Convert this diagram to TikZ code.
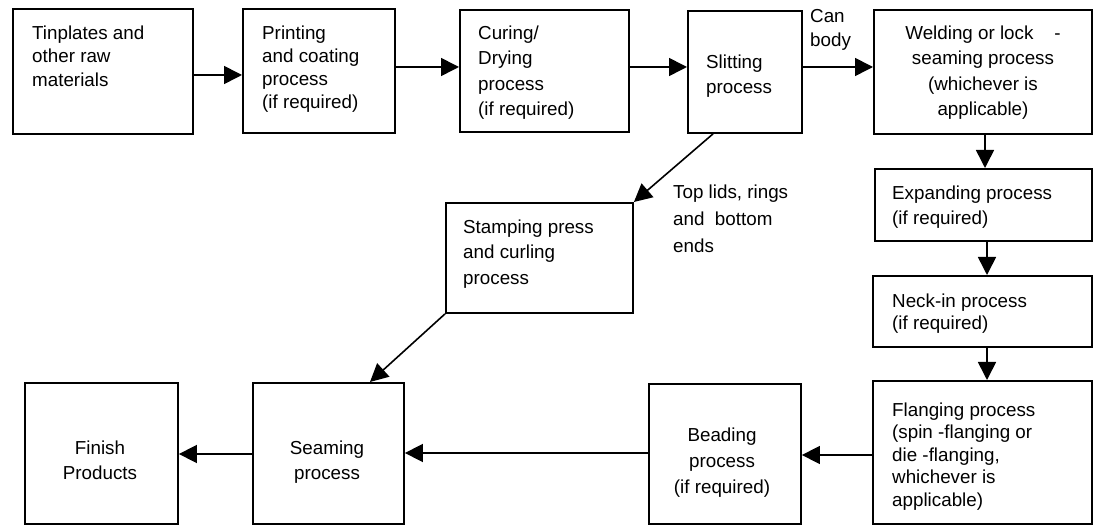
\documentclass[tikz,border=0pt]{standalone}
\usepackage{fontspec}
\setmainfont{Liberation Sans}
\usetikzlibrary{arrows.meta}
\begin{document}
\begin{tikzpicture}[x=1pt,y=-1pt,
  box/.style={draw, line width=1.9pt, inner sep=0pt, anchor=north west},
  txt/.style={inner sep=0pt, anchor=north west, align=left},
  ctxt/.style={inner sep=0pt, anchor=north, align=center},
  fs/.style={font=\fontsize{18.8}{#1}\selectfont},
  arr/.style={line width=1.6pt, -{Triangle[length=18pt,width=18pt]}}]
\useasboundingbox (0,0) rectangle (1093,526);
% boxes
\node[box, minimum width=180pt, minimum height=125pt] (tin) at (12,8) {};
\node[box, minimum width=152pt, minimum height=124pt] (print) at (242,8) {};
\node[box, minimum width=169pt, minimum height=122pt] (cure) at (459,9) {};
\node[box, minimum width=114pt, minimum height=122pt] (slit) at (687,10) {};
\node[box, minimum width=218pt, minimum height=124pt] (weld) at (873,9) {};
\node[box, minimum width=217pt, minimum height=72pt] (expand) at (874,168) {};
\node[box, minimum width=219pt, minimum height=71pt] (neck) at (872,275) {};
\node[box, minimum width=219pt, minimum height=143pt] (flange) at (872,380) {};
\node[box, minimum width=152pt, minimum height=140pt] (bead) at (648,383) {};
\node[box, minimum width=151pt, minimum height=141pt] (seam) at (252,382) {};
\node[box, minimum width=153pt, minimum height=141pt] (finish) at (24,382) {};
\node[box, minimum width=187pt, minimum height=110pt] (stamp) at (445,202) {};
% texts
\node[txt, fs=23.5] (tinT) at (32,25.5) {Tinplates and\\other raw\\materials};
\node[txt, fs=23] (printT) at (262,25.5) {Printing\\and coating\\process\\(if required)};
\node[txt, fs=25.5] (cureT) at (478,25.5) {Curing/\\Drying\\process\\(if required)};
\node[txt, fs=25] (slitT) at (706,54.5) {Slitting\\process};
\node[ctxt, fs=25.5] (weldT) at (983,25.5) {Welding or lock~~~~-\\seaming process\\(whichever is\\applicable)};
\node[txt, fs=25] (expT) at (892,185.5) {Expanding process\\(if required)};
\node[txt, fs=22] (neckT) at (892,293.5) {Neck-in process\\(if required)};
\node[txt, fs=22.5] (flangeT) at (892,402.5) {Flanging process\\(spin -flanging or\\die -flanging,\\whichever is\\applicable)};
\node[ctxt, fs=26] (beadT) at (722,427.5) {Beading\\process\\(if required)};
\node[ctxt, fs=25] (seamT) at (327,440.5) {Seaming\\process};
\node[ctxt, fs=25] (finT) at (100,440.5) {Finish\\Products};
\node[txt, fs=25.5] (stampT) at (463,219.5) {Stamping press\\and curling\\process};
\node[txt, fs=24] (canT) at (810,9.5) {Can\\body};
\node[txt, fs=27] (topT) at (673,184.5) {Top lids, rings\\and~ bottom\\ends};
% connectors
\draw[arr] (tin.east |- 0,75) -- (print.west |- 0,75);
\draw[arr] (print.east |- 0,67) -- (cure.west |- 0,67);
\draw[arr] (cure.east |- 0,67) -- (slit.west |- 0,67);
\draw[arr] (slit.east |- 0,67) -- (weld.west |- 0,67);
\draw[arr] (weld.south -| 985,0) -- (expand.north -| 985,0);
\draw[arr] (expand.south -| 987,0) -- (neck.north -| 987,0);
\draw[arr] (neck.south -| 987,0) -- (flange.north -| 987,0);
\draw[arr] (flange.west |- 0,455) -- (bead.east |- 0,455);
\draw[arr] (bead.west |- 0,453) -- (seam.east |- 0,453);
\draw[arr] (seam.west |- 0,454) -- (finish.east |- 0,454);
\draw[arr] ([xshift=26pt]slit.south west) -- (stamp.north east);
\draw[arr] (stamp.south west) -- ([xshift=118pt]seam.north west);
\end{tikzpicture}
\end{document}
